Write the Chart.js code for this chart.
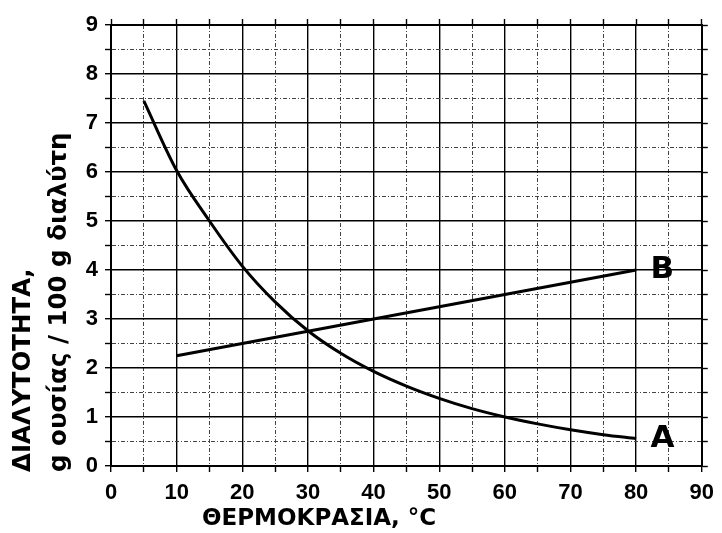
<!DOCTYPE html>
<html>
<head>
<meta charset="utf-8">
<script src="https://cdn.jsdelivr.net/npm/chart.js@4"></script>
<style>
  html, body { margin: 0; padding: 0; background: #fff; }
  #wrap { width: 722px; height: 533px; }
</style>
</head>
<body>
<div id="wrap"><canvas id="chart" width="722" height="533"></canvas></div>
<script>
// data
const tempA = [5, 10, 15, 20, 25, 30, 35, 40, 45, 50, 55, 60, 65, 70, 75, 80];
const solA = [7.45, 6.03, 5.0, 4.08, 3.35, 2.76, 2.3, 1.93, 1.63, 1.38, 1.17, 1.0, 0.86, 0.74, 0.64, 0.56];
const tempB = [10, 80];
const solB = [2.25, 4.0];
const seriesNames = ['A', 'B'];

const xTitle = 'ΘΕΡΜΟΚΡΑΣΙΑ, °C';
const yTitle = ['ΔΙΑΛΥΤΟΤΗΤΑ,', 'g ουσίας / 100 g διαλύτη'];

const FONT = "'DejaVu Sans', Verdana, sans-serif";
const TICKFONT = "'Liberation Sans', Arial, sans-serif";

// major grid solid, minor grid dash-dot
const isMajor = (v, step) => Math.abs(v / step - Math.round(v / step)) < 1e-6;

function gridFor(step) {
    return {
        color: ctx => ctx.tick && isMajor(ctx.tick.value, step) ? '#000' : '#444',
        lineWidth: ctx => ctx.tick && isMajor(ctx.tick.value, step) ? 1.4 : 1,
        tickColor: '#000',
        tickWidth: 1.4,
        tickLength: 6,
        tickBorderDash: []
    };
}
function borderFor(step) {
    return {
        color: '#000',
        width: 2,
        dash: ctx => ctx.tick && !isMajor(ctx.tick.value, step) ? [4, 2, 1, 2] : []
    };
}

// series names at the curve ends, plus the axis titles
const textLayer = {
    id: 'textLayer',
    afterDatasetsDraw(chart) {
        const { ctx, scales } = chart;
        ctx.save();
        ctx.fillStyle = '#000';
        ctx.font = "bold 31px " + FONT;
        ctx.textAlign = 'center';
        ctx.textBaseline = 'middle';
        chart.data.datasets.forEach(ds => {
            const last = ds.data[ds.data.length - 1];
            ctx.fillText(ds.label, scales.x.getPixelForValue(last.x + 4), scales.y.getPixelForValue(last.y));
        });

        ctx.font = "bold 23px " + FONT;
        ctx.textAlign = 'left';
        ctx.textBaseline = 'alphabetic';
        ctx.fillText(xTitle, 202, 525);

        ctx.font = "bold 24.5px " + FONT;
        ctx.translate(0, 472);
        ctx.rotate(-Math.PI / 2);
        ctx.fillText(yTitle[0], 0, 30);
        ctx.fillText(yTitle[1], 0, 66);
        ctx.restore();
    }
};

const mk = (xs, ys) => xs.map((x, i) => ({ x: x, y: ys[i] }));

new Chart(document.getElementById('chart'), {
    type: 'line',
    data: {
        datasets: [{
            label: seriesNames[0],
            data: mk(tempA, solA),
            borderColor: '#000',
            borderWidth: 3,
            pointRadius: 0,
            cubicInterpolationMode: 'monotone'
        }, {
            label: seriesNames[1],
            data: mk(tempB, solB),
            borderColor: '#000',
            borderWidth: 3,
            pointRadius: 0,
            tension: 0
        }]
    },
    options: {
        responsive: false,
        animation: false,
        layout: { padding: 0 },
        plugins: { legend: { display: false }, tooltip: { enabled: false } },
        scales: {
            x: {
                type: 'linear', position: 'bottom', min: 0, max: 90,
                afterFit: s => { s.height = 67; },
                ticks: {
                    stepSize: 5, padding: 8, color: '#000', maxRotation: 0, autoSkip: false,
                    font: { family: TICKFONT, weight: 'bold', size: 22 },
                    callback: v => isMajor(v, 10) ? v : ''
                },
                grid: gridFor(10),
                border: borderFor(10)
            },
            x2: {
                type: 'linear', position: 'top', min: 0, max: 90,
                afterFit: s => { s.height = 25; },
                ticks: { stepSize: 5, autoSkip: false, callback: () => '' },
                grid: { drawOnChartArea: false, tickColor: '#000', tickWidth: 1.4, tickLength: 6 },
                border: { color: '#000', width: 2 }
            },
            y: {
                type: 'linear', position: 'left', min: 0, max: 9,
                afterFit: s => { s.width = 111; },
                ticks: {
                    stepSize: 0.5, padding: 7, color: '#000', autoSkip: false,
                    font: { family: TICKFONT, weight: 'bold', size: 22 },
                    callback: v => isMajor(v, 1) ? v : ''
                },
                grid: gridFor(1),
                border: borderFor(1)
            },
            y2: {
                type: 'linear', position: 'right', min: 0, max: 9,
                afterFit: s => { s.width = 14; },
                ticks: { stepSize: 0.5, autoSkip: false, callback: () => '' },
                grid: { drawOnChartArea: false, tickColor: '#000', tickWidth: 1.4, tickLength: 6 },
                border: { color: '#000', width: 2 }
            }
        }
    },
    plugins: [textLayer]
});
</script>
</body>
</html>
